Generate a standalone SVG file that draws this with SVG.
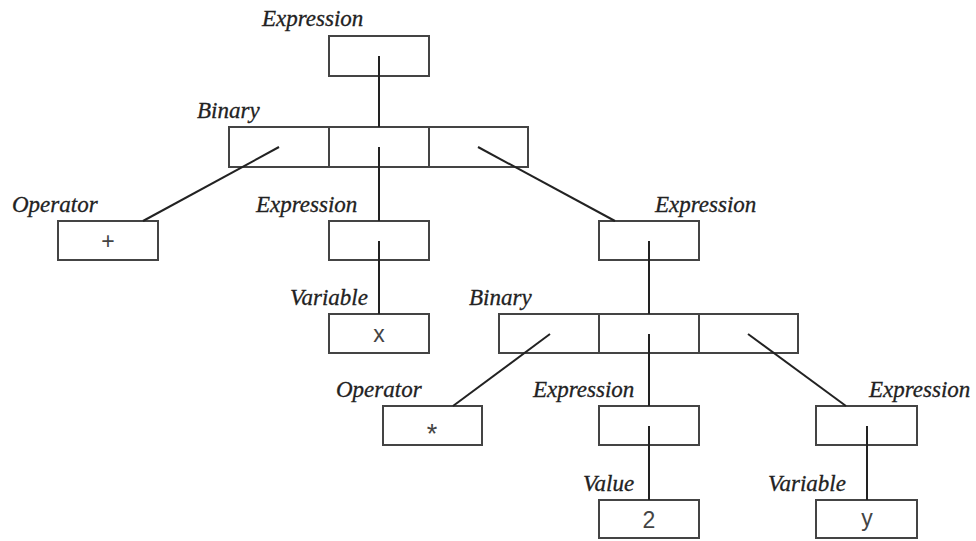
<svg xmlns="http://www.w3.org/2000/svg" width="976" height="541" viewBox="0 0 976 541">
  <style>
    .box { fill: #fff; stroke: #444; stroke-width: 2; }
    .edge { stroke: #222; stroke-width: 2; fill: none; }
    .lbl { font-family: "Liberation Serif", "DejaVu Serif", "Times New Roman", serif; font-style: italic; font-size: 23px; fill: #222; stroke: #222; stroke-width: 0.3; }
    .val { font-family: "Liberation Sans", Arial, sans-serif; font-size: 23px; fill: #444; text-anchor: middle; }
  </style>
  <rect width="976" height="541" fill="#fff"/>

  <!-- tree nodes -->
  <g id="expr-root">
    <text class="lbl" x="262" y="26">Expression</text>
    <rect class="box" x="329" y="36" width="100" height="40"/>
  </g>
  <g id="binary-plus">
    <text class="lbl" x="197" y="118">Binary</text>
    <rect class="box" x="229" y="127" width="299" height="40"/>
    <line class="box" x1="329" y1="127" x2="329" y2="167"/>
    <line class="box" x1="429" y1="127" x2="429" y2="167"/>
  </g>
  <g id="op-plus">
    <text class="lbl" x="12" y="212">Operator</text>
    <rect class="box" x="58" y="221" width="100" height="39"/>
    <text class="val" x="108" y="249">+</text>
  </g>
  <g id="expr-x">
    <text class="lbl" x="256" y="212">Expression</text>
    <rect class="box" x="329" y="221" width="100" height="39"/>
  </g>
  <g id="var-x">
    <text class="lbl" x="290" y="305">Variable</text>
    <rect class="box" x="329" y="314" width="100" height="39"/>
    <text class="val" x="379" y="342">x</text>
  </g>
  <g id="expr-times">
    <text class="lbl" x="655" y="212">Expression</text>
    <rect class="box" x="599" y="221" width="100" height="39"/>
  </g>
  <g id="binary-times">
    <text class="lbl" x="469" y="305">Binary</text>
    <rect class="box" x="499" y="314" width="299" height="39"/>
    <line class="box" x1="599" y1="314" x2="599" y2="353"/>
    <line class="box" x1="699" y1="314" x2="699" y2="353"/>
  </g>
  <g id="op-times">
    <text class="lbl" x="336" y="397">Operator</text>
    <rect class="box" x="383" y="406" width="99" height="39"/>
    <text class="val" x="432" y="443" style="font-size:27px">*</text>
  </g>
  <g id="expr-2">
    <text class="lbl" x="533" y="397">Expression</text>
    <rect class="box" x="599" y="406" width="100" height="39"/>
  </g>
  <g id="value-2">
    <text class="lbl" x="583" y="491">Value</text>
    <rect class="box" x="599" y="500" width="100" height="38"/>
    <text class="val" x="649" y="528">2</text>
  </g>
  <g id="expr-y">
    <text class="lbl" x="869" y="397">Expression</text>
    <rect class="box" x="816" y="406" width="101" height="39"/>
  </g>
  <g id="var-y">
    <text class="lbl" x="768" y="491">Variable</text>
    <rect class="box" x="816" y="500" width="101" height="38"/>
    <text class="val" x="867" y="526">y</text>
  </g>

  <!-- connectors -->
  <g id="edges">
    <line class="edge" x1="379" y1="56" x2="379" y2="127"/>
    <line class="edge" x1="279" y1="147" x2="143" y2="221"/>
    <line class="edge" x1="379" y1="147" x2="379" y2="221"/>
    <line class="edge" x1="379" y1="241" x2="379" y2="314"/>
    <line class="edge" x1="478" y1="147" x2="615" y2="221"/>
    <line class="edge" x1="649" y1="241" x2="649" y2="314"/>
    <line class="edge" x1="550" y1="334" x2="453" y2="406"/>
    <line class="edge" x1="649" y1="334" x2="649" y2="406"/>
    <line class="edge" x1="649" y1="426" x2="649" y2="500"/>
    <line class="edge" x1="748" y1="334" x2="846" y2="406"/>
    <line class="edge" x1="867" y1="426" x2="867" y2="500"/>
  </g>
</svg>
